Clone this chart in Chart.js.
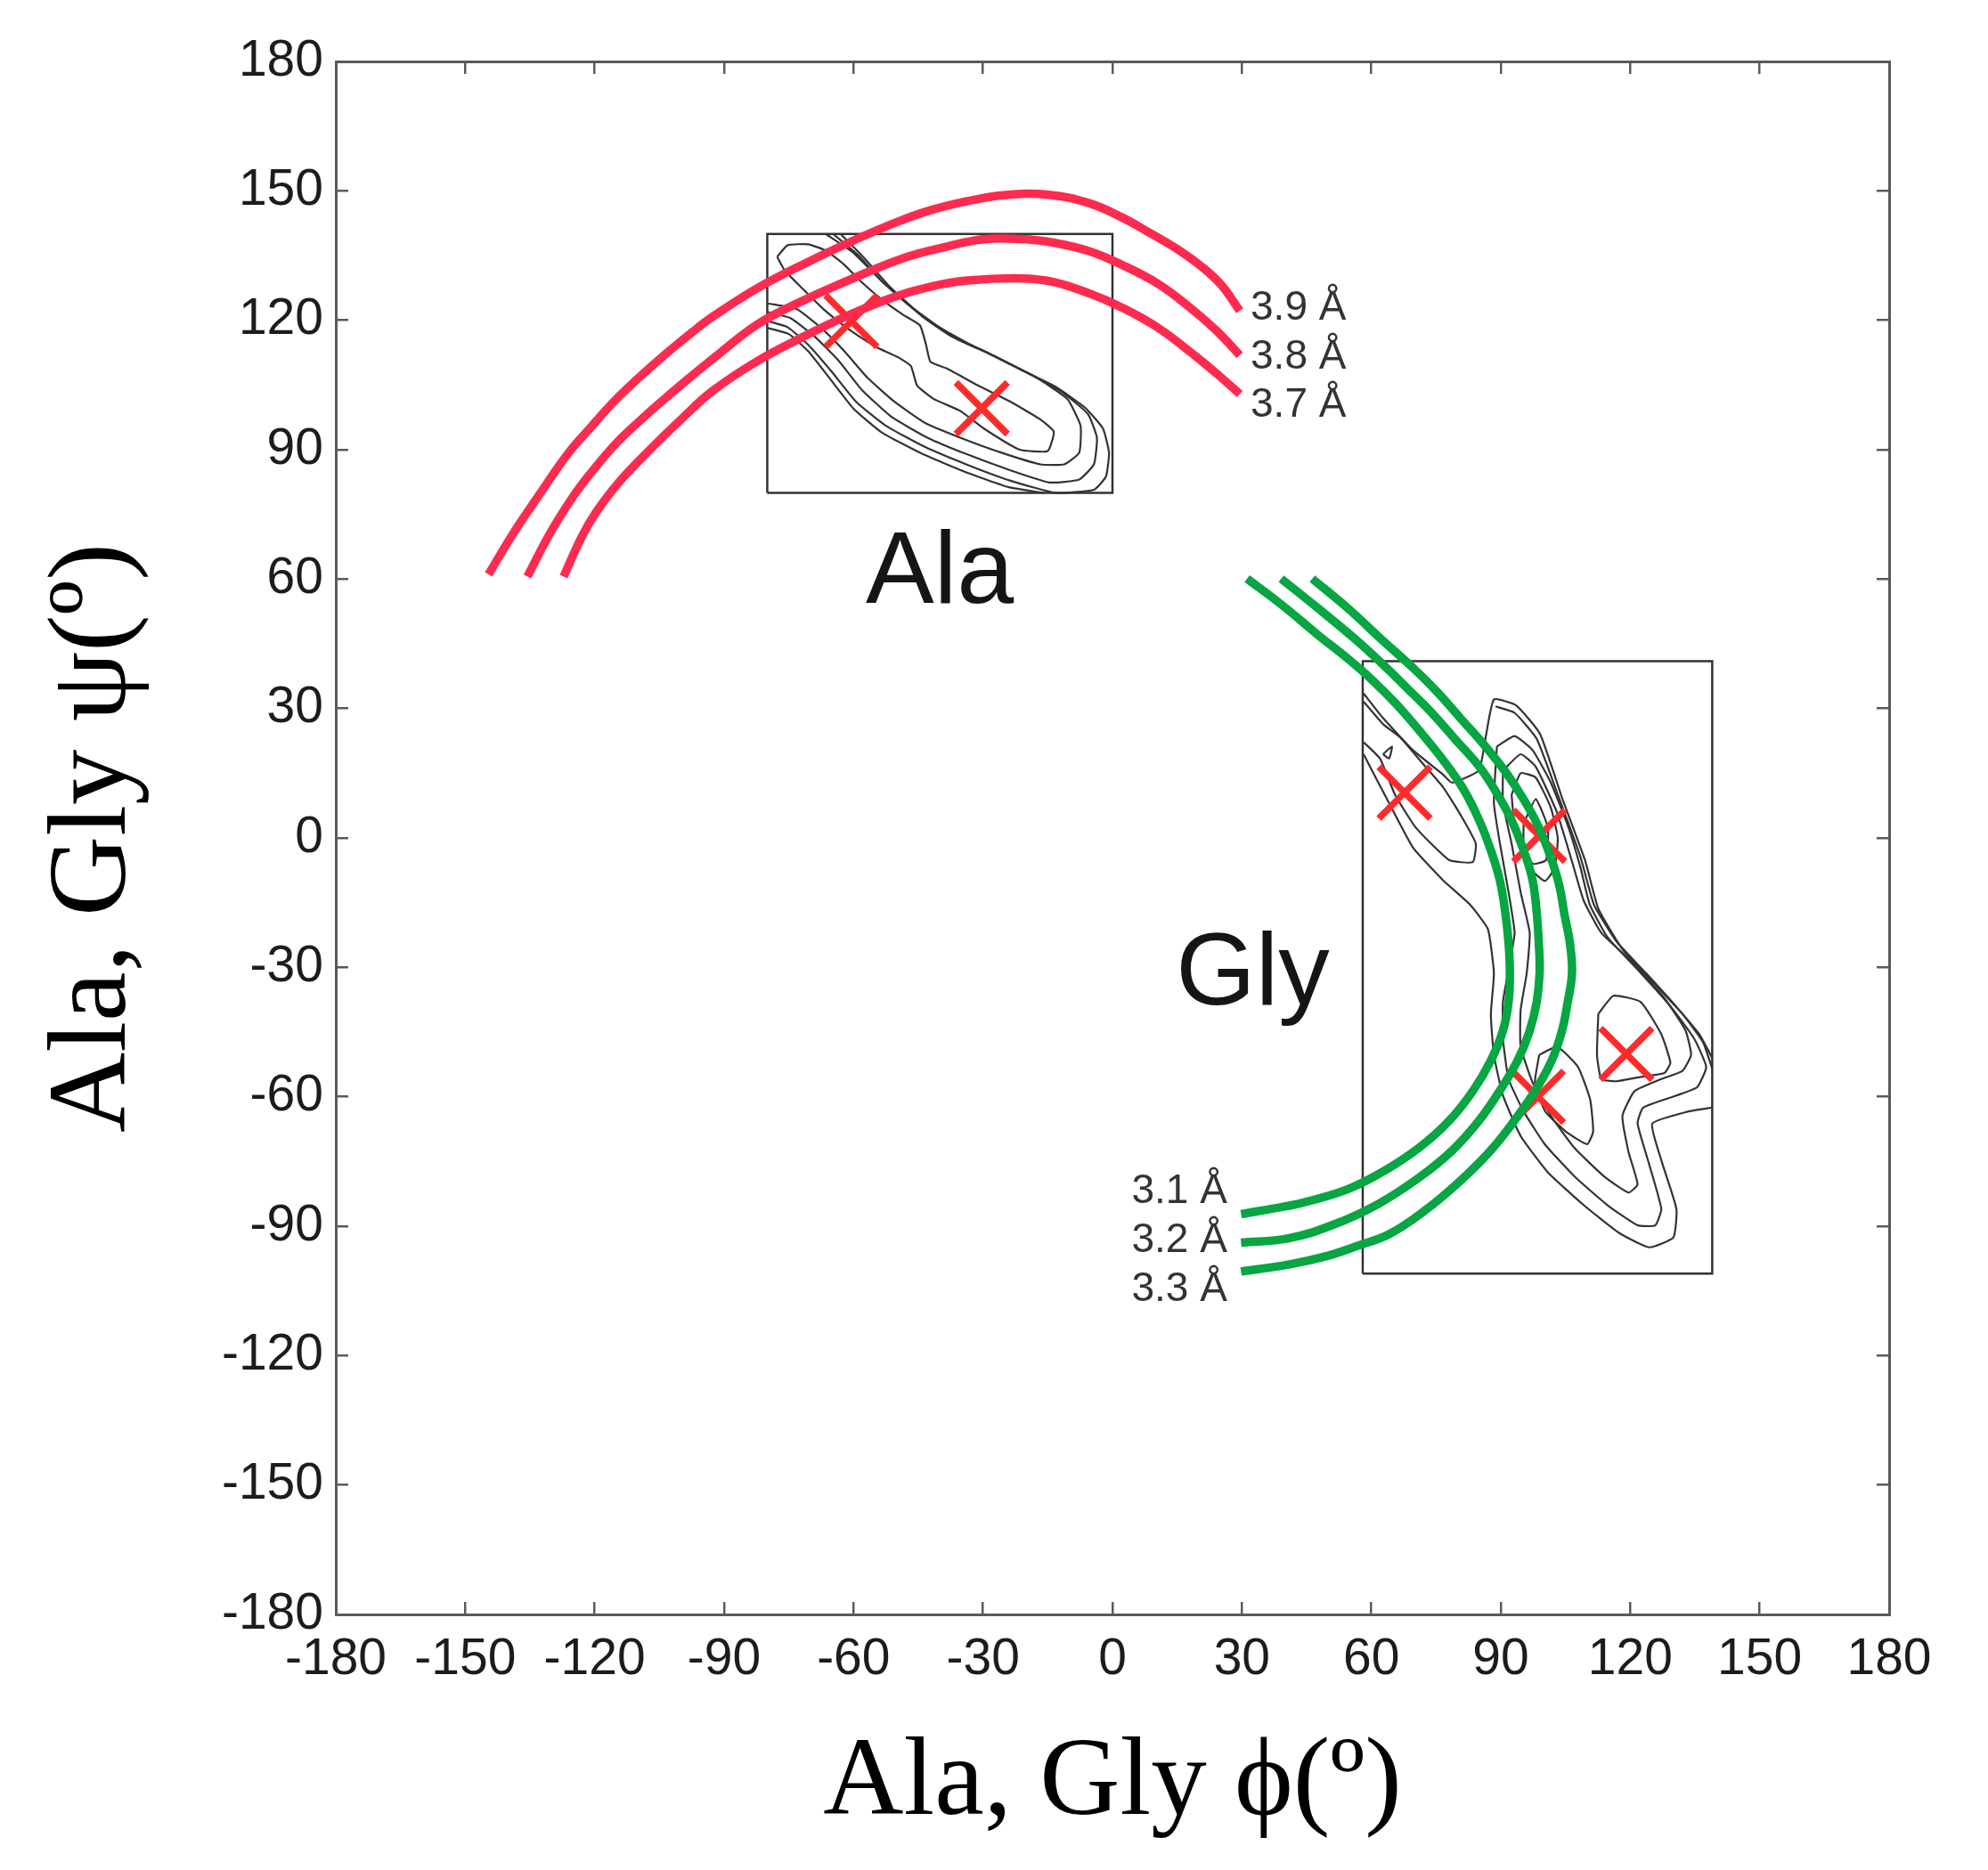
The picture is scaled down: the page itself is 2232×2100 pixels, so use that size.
<!DOCTYPE html>
<html>
<head>
<meta charset="utf-8">
<title>Ala, Gly phi/psi</title>
<script src="https://cdn.jsdelivr.net/npm/chart.js@4.4.1/dist/chart.umd.min.js"></script>
<style>
  html, body { margin: 0; padding: 0; background: #fff; }
  canvas { display: block; }
</style>
</head>
<body>
<canvas id="rama" width="2232" height="2100" style="width:2232px;height:2100px"></canvas>
<script>
// axis range and ticks (degrees)
const axisMin = -180;
const axisMax = 180;
const tickStep = 30;

// red iso-distance curves (phi, psi)
const red39 = [[-144.6,61.1],[-138.8,70.7],[-133.5,78.6],[-126.1,89.2],[-120.9,95.2],[-115.6,101.1],[-110.3,106.2],[-104.0,111.8],[-97.7,117.0],[-92.7,120.8],[-82.2,127.5],[-71.6,133.0],[-61.1,138.0],[-50.6,142.5],[-43.2,145.2],[-33.7,147.6],[-25.3,149.0],[-14.8,149.1],[-5.3,147.1],[2.1,143.9],[8.4,140.4],[15.8,136.0],[21.1,132.1],[25.3,128.1],[29.5,122.2]];
const red38 = [[-135.6,60.6],[-130.3,70.7],[-125.1,79.0],[-120.9,84.6],[-114.6,91.9],[-108.2,97.9],[-104.0,101.6],[-98.7,106.1],[-92.7,111.0],[-82.2,119.1],[-71.6,124.6],[-61.1,129.3],[-48.5,134.4],[-37.9,137.2],[-29.5,138.8],[-21.1,138.8],[-13.7,138.0],[-5.3,136.0],[2.1,132.9],[10.5,128.5],[17.9,123.0],[24.2,117.5],[29.5,111.9]];
const red37 = [[-127.2,60.6],[-123.0,69.8],[-119.8,75.3],[-114.6,82.2],[-107.2,90.0],[-99.8,97.2],[-92.7,103.6],[-82.2,110.6],[-71.6,116.2],[-61.1,121.2],[-50.6,125.4],[-42.1,127.8],[-33.7,129.2],[-21.1,129.7],[-13.7,128.9],[-5.3,126.2],[2.1,123.0],[10.5,118.3],[19.0,111.9],[24.2,107.6],[29.5,102.9]];

// green iso-distance curves
const green31 = [[31.2,60.1],[39.4,53.9],[47.7,47.0],[54.6,41.5],[60.1,36.7],[65.6,31.2],[71.1,24.9],[76.6,18.1],[81.4,11.2],[84.9,4.3],[87.6,-2.6],[89.7,-9.5],[91.0,-17.0],[91.8,-24.3],[92.1,-31.2],[91.8,-38.1],[90.4,-45.0],[87.6,-51.8],[83.5,-58.7],[78.0,-65.6],[71.1,-71.8],[62.8,-77.3],[54.6,-81.4],[44.3,-84.5],[33.9,-86.5],[29.8,-87.2]];
const green32 = [[39.1,60.1],[47.7,53.2],[56.0,46.3],[62.8,40.1],[68.4,34.6],[73.9,29.1],[79.4,22.9],[84.9,16.7],[89.0,10.5],[92.4,4.3],[95.2,-2.6],[97.3,-9.5],[98.3,-17.0],[98.8,-24.3],[99.0,-31.2],[98.3,-38.1],[96.6,-45.0],[93.8,-51.8],[89.7,-58.7],[84.9,-65.6],[78.7,-72.5],[71.1,-78.7],[61.5,-84.9],[51.1,-89.7],[40.8,-92.8],[29.8,-93.8]];
const green33 = [[46.3,60.1],[54.6,53.2],[62.8,45.6],[69.7,39.4],[75.2,33.9],[80.7,27.7],[86.2,21.5],[91.1,15.3],[95.2,9.1],[98.6,2.9],[101.4,-4.0],[103.5,-10.8],[104.8,-18.0],[106.0,-24.3],[106.5,-31.2],[105.5,-38.1],[104.1,-45.0],[101.7,-51.8],[97.9,-58.7],[93.1,-65.6],[87.6,-72.5],[80.7,-79.4],[72.5,-86.3],[64.2,-91.8],[56.7,-94.6],[49.8,-96.9],[40.8,-98.9],[29.8,-100.5]];

// minima markers
const alaMinima = [[-60.5,119.8],[-30.3,99.6]];
const glyMinima = [[67.7,10.5],[98.9,0.5],[119.1,-50.1],[98.6,-60.0]];

// inset frames
const alaBox = [[-80,80],[0,80],[0,140],[-80,140],[-80,80]];
const glyBox = [[58,-101],[139,-101],[139,41],[58,41],[58,-101]];

// Ala density contours
const alaC0 = [[-79.8,118.2],[-75.0,116.8],[-70.5,112.8],[-65.5,106.5],[-60.0,99.5],[-53.5,94.0],[-44.0,89.0],[-34.0,84.8],[-24.0,81.3],[-16.0,80.0]];
const alaC1 = [[-66.3,139.9],[-60.1,135.7],[-53.9,129.5],[-48.4,124.6],[-43.6,120.5],[-37.4,116.3],[-29.8,112.9],[-21.5,108.7],[-13.2,104.6],[-6.3,99.7],[-2.2,94.9],[-0.8,89.3],[-1.5,83.8],[-4.3,80.7],[-13.2,80.0],[-23.6,82.8],[-33.9,86.6],[-43.6,90.7],[-52.6,95.6],[-59.4,101.1],[-65.0,108.0],[-70.5,114.3],[-75.3,118.4],[-79.8,119.8]];
const alaC2 = [[-64.6,139.9],[-58.8,135.0],[-53.2,128.8],[-47.7,123.9],[-42.2,119.8],[-36.0,115.6],[-28.4,112.2],[-20.1,108.0],[-11.9,103.5],[-5.7,98.3],[-3.6,92.8],[-4.3,86.6],[-7.7,83.1],[-14.6,82.4],[-23.6,85.2],[-33.9,89.0],[-42.9,92.8],[-51.2,97.6],[-58.1,103.9],[-63.6,110.8],[-69.1,116.3],[-74.6,120.5],[-79.8,121.9]];
const alaC3 = [[-62.9,139.9],[-57.4,134.3],[-51.9,128.1],[-46.3,122.9],[-40.8,118.8],[-33.9,114.9],[-26.3,111.1],[-18.1,107.0],[-10.5,101.8],[-7.4,95.6],[-7.7,89.3],[-11.2,86.6],[-16.7,86.6],[-25.7,89.3],[-35.3,92.8],[-43.6,96.3],[-50.5,101.1],[-56.7,106.6],[-62.2,112.9],[-67.7,118.4],[-73.2,122.6],[-79.8,123.9]];
const alaC4 = [[-77.7,134.7],[-75.3,137.4],[-70.5,137.6],[-66.3,136.1],[-62.2,132.9],[-58.1,128.8],[-53.2,124.6],[-48.4,121.2],[-44.6,118.8],[-43.2,114.3],[-42.2,110.4],[-38.1,108.7],[-31.2,104.9],[-23.6,101.1],[-16.7,97.0],[-13.6,94.2],[-15.0,89.7],[-21.5,90.0],[-29.8,94.9],[-35.3,99.0],[-41.5,101.8],[-45.3,104.9],[-46.7,109.4],[-49.8,111.5],[-55.0,113.9],[-60.8,117.7],[-67.0,122.6],[-71.9,127.4],[-76.0,131.6],[-77.7,134.7]];

// Gly density contours
const glyC1a = [[58.2,33.5],[62.7,27.8],[69.7,20.3],[76.6,14.7],[78.7,12.8],[84.9,15.6],[86.3,22.2],[88.4,32.1],[93.6,30.7],[99.1,24.1],[104.3,9.0],[109.5,-5.1],[112.6,-16.4],[118.2,-25.8],[125.1,-33.3],[132.1,-40.8],[136.9,-47.4],[139.0,-53.5]];
const glyC1b = [[139.0,-62.5],[133.5,-63.4],[125.1,-66.2],[127.2,-74.7],[130.7,-86.0],[130.0,-92.6],[124.4,-94.9],[117.5,-91.6],[109.2,-85.1],[100.9,-77.5],[94.6,-69.1],[90.5,-59.7],[88.4,-50.3],[87.7,-40.8],[88.4,-31.4],[87.0,-21.1],[82.8,-15.4],[76.6,-9.8],[69.7,-2.3],[64.1,8.1],[58.2,19.4]];
const glyC1c = [[88.8,30.5],[93.2,29.0],[98.3,23.0],[103.4,9.5],[108.5,-4.5],[111.6,-15.5],[116.8,-24.0],[123.8,-31.5],[131.0,-39.5],[136.0,-45.5],[139.0,-51.0]];
const glyC2 = [[58.2,22.2],[62.0,18.4],[65.5,10.0],[70.3,2.4],[78.0,-5.1],[83.5,-5.6],[84.2,-1.3],[80.7,5.3],[76.6,11.8],[71.7,17.5],[66.9,23.1],[62.7,26.4],[58.2,31.6]];
const glyC3 = [[62.7,19.4],[64.8,21.2],[64.1,18.4],[62.7,19.4]];
const glyC4 = [[89.1,21.2],[93.2,23.6],[97.4,20.3],[101.6,12.8],[105.7,2.4],[108.5,-7.0],[110.6,-15.4],[114.7,-23.0],[121.7,-30.5],[129.3,-39.0],[134.8,-46.5],[137.6,-53.1],[135.5,-57.8],[130.7,-59.7],[123.0,-62.5],[121.7,-66.2],[124.4,-75.7],[127.2,-86.0],[125.8,-89.8],[121.7,-89.8],[114.7,-85.1],[107.1,-78.5],[100.2,-71.0],[95.3,-63.4],[91.8,-55.9],[90.5,-46.5],[90.5,-38.0],[91.8,-30.5],[93.2,-22.0],[91.8,-12.6],[89.8,-1.3],[88.4,8.1],[89.1,21.2]];
const glyC5 = [[90.5,15.6],[94.6,19.4],[98.1,16.5],[102.9,6.2],[106.4,-5.1],[109.2,-14.5],[113.3,-22.0],[120.3,-28.6],[127.9,-37.1],[132.8,-44.6],[134.1,-50.3],[132.1,-54.0],[127.2,-55.9],[121.0,-58.7],[118.2,-64.4],[119.6,-72.8],[121.7,-80.3],[119.6,-82.2],[114.0,-78.5],[107.1,-71.9],[101.6,-64.4],[97.4,-56.8],[94.6,-48.4],[94.6,-39.9],[96.0,-31.4],[96.7,-22.0],[94.6,-12.6],[92.5,-1.3],[90.5,8.1],[90.5,15.6]];
const glyC6 = [[92.5,10],[94.6,15],[98.1,14],[101.6,7],[103.2,0],[102.5,-7],[100.2,-10],[96.7,-7],[93.5,0],[92.5,10]];
const glyC7 = [[95.3,3.3],[98.1,9.0],[100.9,2.4],[100.5,-5.1],[97.4,-6.0],[95.3,-1.3],[95.3,3.3]];
const glyC8 = [[112.6,-40.8],[116.1,-36.6],[122.4,-38.0],[127.2,-45.5],[129.3,-52.1],[127.9,-54.5],[122.4,-55.4],[116.8,-56.4],[113.3,-55.9],[112.3,-50.3],[112.6,-40.8]];
const glyC9 = [[98.9,-50.3],[103.1,-48.4],[107.9,-53.1],[110.7,-60.6],[111.4,-68.1],[110.0,-71.0],[105.1,-68.1],[100.3,-63.4],[97.9,-56.8],[98.9,-50.3]];

// text annotations (data coordinates, baseline)
const regionNames = ["Ala", "Gly"];
const regionX = [-40, 32.5];
const regionY = [54.5, -38.7];
const redLabels = ["3.9 Å", "3.8 Å", "3.7 Å"];
const redLabelX = 32;
const redLabelY = [120.2, 108.8, 97.7];
const greenLabels = ["3.1 Å", "3.2 Å", "3.3 Å"];
const greenLabelX = 26.6;
const greenLabelY = [-84.7, -96.0, -107.4];

const RED = "#fe2a50";
const GREEN = "#06a642";
const CROSS = "#ff2b2b";
const INK = "#333333";
const AXIS = "#5a5a5a";

const pts = (arr) => arr.map(([x, y]) => ({ x, y }));

function lineSet(arr, color, width, order, tension) {
  return {
    data: pts(arr),
    showLine: true,
    borderColor: color,
    borderWidth: width,
    pointRadius: 0,
    tension: tension,
    fill: false,
    order: order,
  };
}

const datasets = [
  lineSet(red39, RED, 9.5, 1, 0.4),
  lineSet(red38, RED, 9.5, 1, 0.4),
  lineSet(red37, RED, 9.5, 1, 0.4),
  lineSet(green31, GREEN, 9.5, 1, 0.4),
  lineSet(green32, GREEN, 9.5, 1, 0.4),
  lineSet(green33, GREEN, 9.5, 1, 0.4),
  {
    data: pts(alaMinima.concat(glyMinima)),
    showLine: false,
    pointStyle: "crossRot",
    pointRadius: 41,
    borderWidth: 7.5,
    pointBorderWidth: 7.5,
    borderColor: CROSS,
    pointBorderColor: CROSS,
    order: 2,
  },
  lineSet(alaBox, INK, 2.5, 3, 0),
  lineSet(glyBox, INK, 2.5, 3, 0),
];

[alaC0, alaC1, alaC2, alaC3, alaC4, glyC1a, glyC1b, glyC1c, glyC2, glyC3, glyC4, glyC5, glyC6, glyC7, glyC8, glyC9]
  .forEach((c) => datasets.push(lineSet(c, INK, 2.2, 4, 0.15)));

// labels drawn at data positions through the scales
const annotations = {
  id: "annotations",
  afterDatasetsDraw(chart) {
    const { ctx, scales } = chart;
    const px = (v) => scales.x.getPixelForValue(v);
    const py = (v) => scales.y.getPixelForValue(v);
    ctx.save();
    ctx.textBaseline = "alphabetic";
    ctx.fillStyle = "#151515";
    ctx.font = "115px 'Liberation Sans', Arial, sans-serif";
    ctx.textAlign = "center";
    regionNames.forEach((t, i) => ctx.fillText(t, px(regionX[i]), py(regionY[i])));

    ctx.fillStyle = "#333";
    ctx.font = "46px 'Liberation Sans', Arial, sans-serif";
    ctx.textAlign = "left";
    redLabels.forEach((t, i) => ctx.fillText(t, px(redLabelX), py(redLabelY[i])));
    ctx.textAlign = "right";
    greenLabels.forEach((t, i) => ctx.fillText(t, px(greenLabelX), py(greenLabelY[i])));
    ctx.restore();
  },
};

const tickFont = { family: "'Liberation Sans', Arial, sans-serif", size: 57 };
const titleFont = { family: "'Liberation Serif', 'Times New Roman', serif", size: 125 };
const frameGrid = { drawOnChartArea: false, drawTicks: true, tickLength: -14, color: AXIS, lineWidth: 2.5 };
const frameBorder = { display: true, color: AXIS, width: 3 };

function scaleBase(position, showLabels) {
  return {
    type: "linear",
    position: position,
    min: axisMin,
    max: axisMax,
    grid: frameGrid,
    border: frameBorder,
    ticks: {
      display: showLabels,
      stepSize: tickStep,
      autoSkip: false,
      maxRotation: 0,
      color: "#1c1c1c",
      font: tickFont,
      callback: (v) => String(v),
    },
  };
}

const xScale = scaleBase("bottom", true);
xScale.ticks.padding = 31;
xScale.title = { display: true, text: "Ala, Gly ϕ(º)", color: "#000", font: titleFont, padding: { top: 0, bottom: 21 } };
xScale.afterFit = (s) => { s.height = 287; };

const yScale = scaleBase("left", true);
yScale.ticks.padding = 28;
yScale.title = { display: true, text: "Ala, Gly ψ(º)", color: "#000", font: titleFont, padding: { top: 32, bottom: 0 } };
yScale.afterFit = (s) => { s.width = 377; };

const x2Scale = scaleBase("top", false);
x2Scale.afterFit = (s) => { s.height = 0; };
const y2Scale = scaleBase("right", false);
y2Scale.afterFit = (s) => { s.width = 0; };

new Chart(document.getElementById("rama"), {
  type: "scatter",
  data: { datasets },
  options: {
    responsive: false,
    animation: false,
    devicePixelRatio: 1,
    events: [],
    layout: { padding: { left: 0, top: 69, right: 111, bottom: 0 } },
    plugins: { legend: { display: false }, tooltip: { enabled: false } },
    scales: { x: xScale, y: yScale, x2: x2Scale, y2: y2Scale },
  },
  plugins: [annotations],
});
</script>
</body>
</html>
